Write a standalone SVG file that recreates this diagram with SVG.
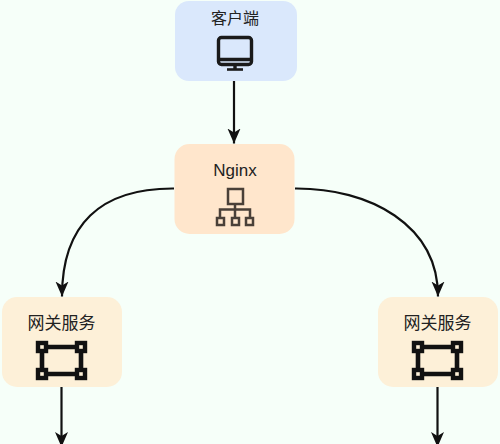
<svg xmlns="http://www.w3.org/2000/svg" width="500" height="444" viewBox="0 0 500 444">
<style>
.t{font-family:"Liberation Sans","Noto Sans CJK SC",sans-serif;font-size:17px;fill:#222;text-anchor:middle}
.c{fill:none;stroke:#111;stroke-width:2.2}
.i{fill:none;stroke:#1a1a1a;stroke-width:3.4}
</style>
<defs>
<marker id="a" markerUnits="userSpaceOnUse" markerWidth="16" markerHeight="14" refX="15" refY="7" orient="auto"><path d="M0 0.500L15 7L0 13.500L4 7Z" fill="#111"/></marker>
<g id="gw">
<path d="M-20 -13.500H20M-20 13.500H20M-19.500 -14V14M19.500 -14V14" fill="none" stroke="#111" stroke-width="4.6"/>
<g fill="#fdf0d8" stroke="#111" stroke-width="4.4"><rect x="-23.500" y="-17.500" width="8" height="8"/><rect x="15.500" y="-17.500" width="8" height="8"/><rect x="-23.500" y="9.500" width="8" height="8"/><rect x="15.500" y="9.500" width="8" height="8"/></g>
</g>
</defs>
<rect width="500" height="444" fill="#f6fff9"/>
<g id="connectors">
<path class="c" d="M234 81V143.500" marker-end="url(#a)"/>
<path class="c" d="M174 188.500C100 188 62 225 62 296.500" marker-end="url(#a)"/>
<path class="c" d="M295 188.500C370 188 438 225 438 296.500" marker-end="url(#a)"/>
<path class="c" d="M61.500 387V447" marker-end="url(#a)"/>
<path class="c" d="M437.500 387V447" marker-end="url(#a)"/>
</g>
<g id="client">
<rect x="175" y="1" width="122" height="80" rx="14" fill="#dae8fc"/>
<text class="t" x="235" y="24" style="font-size:16px">客户端</text>
<rect x="218.500" y="37.500" width="33" height="27" rx="3" class="i"/>
<path class="i" d="M218 59.500H252M235 65V70"/>
<path d="M227 69.500H243" stroke="#1a1a1a" stroke-width="2.6" fill="none"/>
</g>
<g id="nginx">
<rect x="174.500" y="144" width="120" height="90" rx="15" fill="#ffe6cc"/>
<text class="t" x="235" y="176">Nginx</text>
<g fill="none" stroke="#4a4038" stroke-width="2.5">
<rect x="228" y="189" width="15" height="15"/>
<path d="M235 204V217M220 217V209.500H250V217"/>
<rect x="217" y="218" width="7" height="7"/><rect x="232" y="218" width="7" height="7"/><rect x="246" y="218" width="7" height="7"/>
</g>
</g>
<g id="gateway-left">
<rect x="2" y="297" width="120" height="90" rx="15" fill="#fdf0d8"/>
<text class="t" x="61.500" y="329">网关服务</text>
<use href="#gw" x="61.500" y="360.500"/>
</g>
<g id="gateway-right">
<rect x="378" y="297" width="120" height="90" rx="15" fill="#fdf0d8"/>
<text class="t" x="437.500" y="329">网关服务</text>
<use href="#gw" x="437.500" y="360.500"/>
</g>
</svg>
